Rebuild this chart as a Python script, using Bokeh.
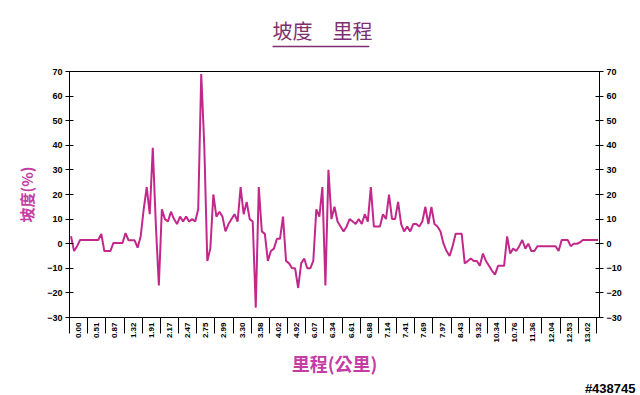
import math
from bokeh.plotting import figure
from bokeh.models import Range1d, LinearAxis, FixedTicker, Title
from bokeh.embed import file_html
from bokeh.resources import INLINE

# ---- data ----
km_labels = ["0.00", "0.51", "0.87", "1.32", "1.91", "2.17", "2.47", "2.75", "2.99", "3.30",
             "3.58", "4.02", "4.92", "6.07", "6.34", "6.61", "6.88", "7.14", "7.41", "7.69",
             "7.97", "8.43", "9.32", "10.34", "10.76", "11.36", "12.04", "12.53", "13.02"]
points_per_label = 6

slope = [
    3, -3, -1, 1.5, 1.5, 1.5,
    1.5, 1.5, 1.5, 1.5, 4, -3,
    -3, -3, 0.3, 0.3, 0.3, 0.3,
    4.3, 1.4, 1.4, 1.4, -1.6, 3,
    14, 23, 12, 39, 8, -17,
    14, 10, 9, 13, 10, 8,
    11, 9, 11, 9, 10, 9,
    14, 69, 40, -7, -2, 20,
    11, 13, 11, 5, 8, 10,
    12, 9, 23, 12, 17, 10,
    9, -26, 23, 5, 4, -7,
    -3, -2, 2, 2, 11, -7,
    -8, -10, -10, -18, -8, -6,
    -10, -10, -7, 14, 11, 23,
    -17, 30, 10, 15, 9, 7,
    5, 7, 10, 9, 8, 10,
    8, 12, 9, 23, 7, 7,
    7, 12, 10, 20, 10, 10,
    17, 8, 5, 7, 5, 8,
    8, 7, 9, 15, 8, 15,
    8, 7, 5, 0, -3, -5,
    -1, 4, 4, 4, -8, -7,
    -6, -7, -7, -9, -4, -7,
    -9, -11, -12.6, -9, -9, -9,
    3, -4, -2, -3, -1, 1.5,
    -2, 0, -3, -3, -1, -1,
    -1, -1, -1, -1, -1, -3,
    1.5, 1.5, 1.5, -1, 0, 0,
    0.5, 1.5, 1.5, 1.5, 1.5, 1.5,
    1.5,
]
y_ticks = [-30, -20, -10, 0, 10, 20, 30, 40, 50, 60, 70]

# ---- derived positions (category index -> x) ----
n = len(slope)
xs = [2 * i + 1 for i in range(n)]
step = 2 * points_per_label
centers = [step * g + step // 2 for g in range(len(km_labels))]
bounds = [step * g for g in range(len(km_labels) + 1)]

LINE = "#C2288C"
TITLE = "#7E2F72"
AXLAB = "#C43CA4"
TICKFONT = "Liberation Sans"
CJK = "Noto Sans CJK TC"

p = figure(width=640, height=395, output_backend="svg", toolbar_location=None,
           x_range=Range1d(0, 2 * n), y_range=Range1d(-30, 70),
           min_border_left=69, min_border_right=41, min_border_top=71, min_border_bottom=78)
p.background_fill_color = "white"
p.border_fill_color = "white"
p.outline_line_color = "black"
p.outline_line_width = 1
p.grid.visible = False

p.line(xs, slope, line_color=LINE, line_width=2)

# y axes (left + right)
p.yaxis.ticker = FixedTicker(ticks=y_ticks)
right = LinearAxis(ticker=FixedTicker(ticks=y_ticks))
p.add_layout(right, "right")
for ax in [p.yaxis[0], right]:
    ax.major_tick_in = 4
    ax.major_tick_out = 4
    ax.minor_tick_line_color = None
    ax.major_label_text_font = TICKFONT
    ax.major_label_text_font_style = "bold"
    ax.major_label_text_font_size = "9px"
    ax.major_label_text_color = "black"
    ax.axis_line_color = "black"
    ax.major_tick_line_color = "black"
    ax.major_label_standoff = 3
p.yaxis[0].axis_label = "坡度(%)"
p.yaxis[0].axis_label_text_font = CJK
p.yaxis[0].axis_label_text_font_size = "15px"
p.yaxis[0].axis_label_text_font_style = "bold"
p.yaxis[0].axis_label_text_color = AXLAB
p.yaxis[0].axis_label_standoff = 7

# x axis: labels at category centers, separators as minor ticks
xa = p.xaxis[0]
xa.ticker = FixedTicker(ticks=centers, minor_ticks=bounds)
xa.major_label_overrides = {c: lab for c, lab in zip(centers, km_labels)}
xa.major_label_orientation = math.pi / 2
xa.major_tick_line_color = None
xa.major_tick_in = 0
xa.major_tick_out = 0
xa.minor_tick_in = 0
xa.minor_tick_out = 16
xa.minor_tick_line_color = "black"
xa.major_label_standoff = -11
xa.major_label_text_font = TICKFONT
xa.major_label_text_font_style = "bold"
xa.major_label_text_font_size = "8px"
xa.major_label_text_color = "black"
xa.axis_label = "里程(公里)"
xa.axis_label_text_font = CJK
xa.axis_label_text_font_size = "18px"
xa.axis_label_text_font_style = "bold"
xa.axis_label_text_color = AXLAB
xa.axis_label_standoff = 4

# underline of the title: top edge of an (otherwise invisible) padded title box
ul = Title(text=" ", align="left", offset=203, standoff=0,
           text_font_size="1px", text_color=TITLE,
           border_line_color=TITLE, border_line_width=1.5,
           border_line_dash="97 2000", padding=(48, 48, 0, 24))
p.add_layout(ul, "above")

# title
p.title.text = "坡度　里程"
p.title.align = "left"
p.title.offset = 203
p.title.standoff = 0
p.title.text_font = CJK
p.title.text_font_size = "20px"
p.title.text_font_style = "normal"
p.title.text_color = TITLE

# watermark
wm = Title(text="#438745", align="right", offset=-36, standoff=0,
           text_font=TICKFONT, text_font_style="bold", text_font_size="13px",
           text_color="black")
p.add_layout(wm, "below")

open("out.html", "w").write(file_html(p, INLINE))
